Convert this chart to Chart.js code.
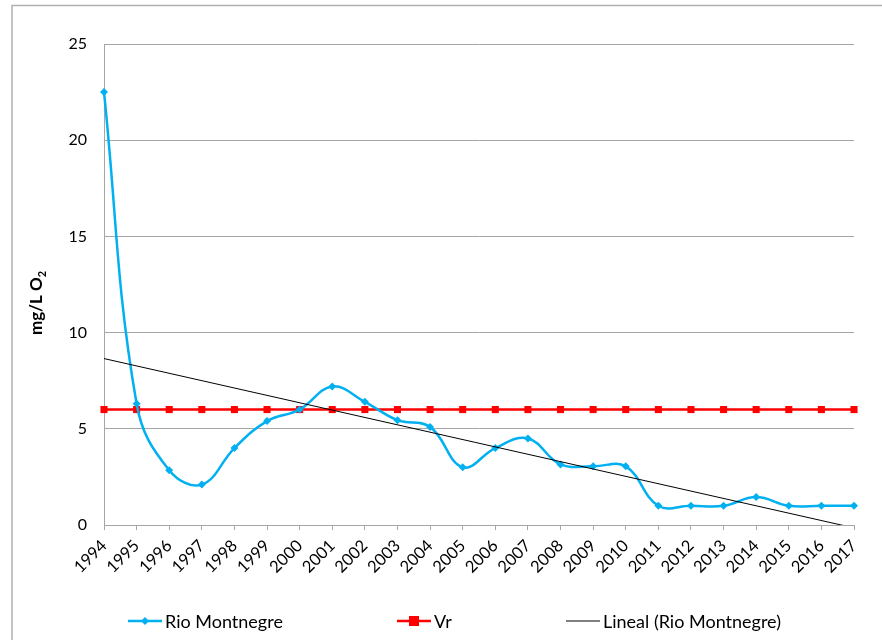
<!DOCTYPE html>
<html>
<head>
<meta charset="utf-8">
<script src="https://cdn.jsdelivr.net/npm/chart.js@4"></script>
<style>
  html, body { margin: 0; padding: 0; background: #fff; }
  #wrap { position: relative; width: 882px; height: 640px; }
  #legend { position: absolute; left: 0; top: 609px; width: 882px; height: 26px;
            font-family: Lato, sans-serif; font-size: 18px; color: #000; }
  .item { position: absolute; top: 0; display: flex; align-items: center; white-space: nowrap; }
  .item svg { margin-right: 3px; }
</style>
</head>
<body>
<div id="wrap">
  <canvas id="chart" width="882" height="640"></canvas>
  <div id="legend"></div>
</div>
<script>
const years = ['1994','1995','1996','1997','1998','1999','2000','2001','2002','2003','2004','2005',
               '2006','2007','2008','2009','2010','2011','2012','2013','2014','2015','2016','2017'];
const rioMontnegre = [22.5, 6.3, 2.85, 2.1, 4.0, 5.4, 6.0, 7.2, 6.4, 5.45, 5.1, 3.0,
                      4.0, 4.5, 3.15, 3.05, 3.05, 1.0, 1.0, 1.0, 1.45, 1.0, 1.0, 1.0];
const vr = [6, 6, 6, 6, 6, 6, 6, 6, 6, 6, 6, 6, 6, 6, 6, 6, 6, 6, 6, 6, 6, 6, 6, 6];
// trend line read at its two ends (1994 and 2017)
const lineal = [8.65, null, null, null, null, null, null, null, null, null, null, null,
                null, null, null, null, null, null, null, null, null, null, null, -0.15];
const yTicks = [0, 5, 10, 15, 20, 25];

const blue = '#00b0f0';
const red = '#ff0000';
const gridGray = '#a6a6a6';
const font = 'Lato, sans-serif';

const framePlugin = {
    id: 'frame',
    beforeDraw(chart) {
        const c = chart.ctx;
        c.save();
        c.strokeStyle = '#b0b0b0';
        c.lineWidth = 1.5;
        c.strokeRect(12, 5.5, 900, 700);
        c.restore();
    }
};

const yTitlePlugin = {
    id: 'yTitle',
    afterDraw(chart) {
        const c = chart.ctx;
        c.save();
        c.translate(42, 303);
        c.rotate(-Math.PI / 2);
        c.fillStyle = '#000';
        c.textBaseline = 'alphabetic';
        c.font = 'bold 17px ' + font;
        const main = 'mg/L O';
        const w = c.measureText(main).width;
        c.font = 'bold 11px ' + font;
        const ws = c.measureText('2').width;
        const x0 = -(w + ws) / 2;
        c.font = 'bold 17px ' + font;
        c.fillText(main, x0, 0);
        c.font = 'bold 11px ' + font;
        c.fillText('2', x0 + w, 4);
        c.restore();
    }
};

new Chart(document.getElementById('chart'), {
    type: 'line',
    data: {
        labels: years,
        datasets: [
            {
                label: 'Rio Montnegre',
                data: rioMontnegre,
                borderColor: blue,
                backgroundColor: blue,
                borderWidth: 2.5,
                tension: 0.4,
                pointStyle: 'rectRot',
                pointRadius: 4,
                pointBorderWidth: 0,
                clip: false,
                order: 1
            },
            {
                label: 'Vr',
                data: vr,
                borderColor: red,
                backgroundColor: red,
                borderWidth: 2.5,
                pointStyle: 'rect',
                pointRadius: 5,
                pointBorderWidth: 0,
                clip: false,
                order: 2
            },
            {
                label: 'Lineal (Rio Montnegre)',
                data: lineal,
                borderColor: '#000',
                borderWidth: 1,
                pointRadius: 0,
                spanGaps: true,
                order: 0
            }
        ]
    },
    options: {
        responsive: false,
        animation: false,
        layout: { padding: { left: 12, right: 28, top: 44, bottom: 0 } },
        plugins: {
            legend: { display: false },
            tooltip: { enabled: false }
        },
        scales: {
            x: {
                offset: false,
                afterFit(scale) { scale.height = 115; },
                grid: { display: true, drawOnChartArea: false, color: gridGray, tickLength: 5 },
                border: { color: gridGray },
                ticks: {
                    color: '#000', font: { family: font, size: 16.5 },
                    minRotation: 45, maxRotation: 45, padding: 6, autoSkip: false
                }
            },
            y: {
                min: 0, max: 25,
                afterFit(scale) { scale.width = 92; },
                afterBuildTicks(scale) { scale.ticks = yTicks.map(v => ({ value: v })); },
                grid: { color: gridGray, drawTicks: false },
                border: { color: gridGray },
                ticks: { color: '#000', font: { family: font, size: 16 }, padding: 17 }
            }
        }
    },
    plugins: [framePlugin, yTitlePlugin]
});

// legend below the plot
const legendItems = [
    { text: 'Rio Montnegre', left: 128, color: blue, marker: 'diamond' },
    { text: 'Vr', left: 397, color: red, marker: 'square' },
    { text: 'Lineal (Rio Montnegre)', left: 566, color: '#000', marker: 'none' }
];
const legendEl = document.getElementById('legend');
legendItems.forEach(it => {
    let mark = '';
    if (it.marker === 'diamond') mark = `<polygon points="17,8 21,12 17,16 13,12" fill="${it.color}"/>`;
    if (it.marker === 'square') mark = `<rect x="12" y="7" width="10" height="10" fill="${it.color}"/>`;
    const sw = it.marker === 'none' ? 1 : 2.5;
    const div = document.createElement('div');
    div.className = 'item';
    div.style.left = it.left + 'px';
    div.innerHTML = `<svg width="34" height="24"><line x1="0" y1="12" x2="34" y2="12" stroke="${it.color}" stroke-width="${sw}"/>${mark}</svg><span>${it.text}</span>`;
    legendEl.appendChild(div);
});
</script>
</body>
</html>
